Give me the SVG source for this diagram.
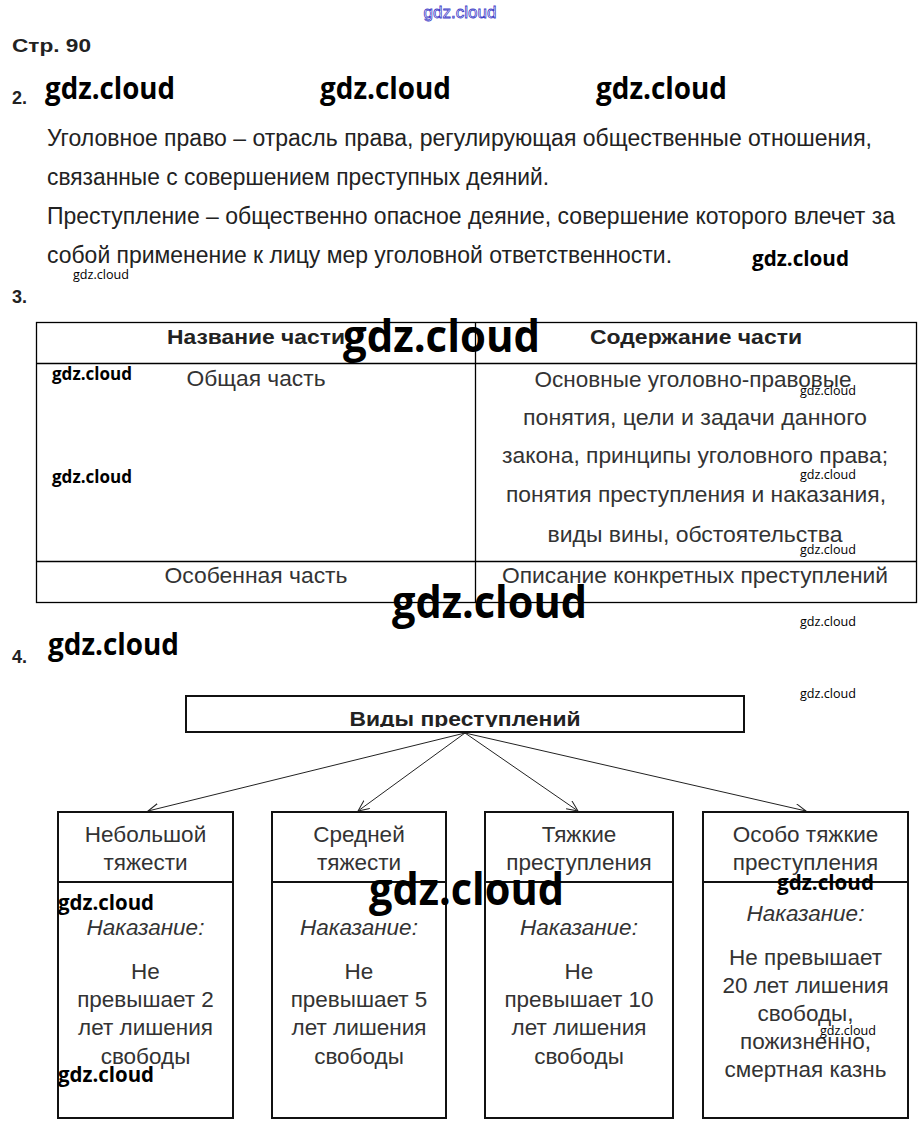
<svg xmlns="http://www.w3.org/2000/svg" width="921" height="1134" viewBox="0 0 921 1134">
<style>
.bg{fill:#fff}
.t{font-family:"Liberation Sans",Arial,sans-serif;fill:#222}
.b{font-weight:bold}
.c{text-anchor:middle}
.p{font-size:23px}
.n{font-size:22px;fill:#333}
.d{font-size:22.5px;fill:#333}
.i{font-style:italic}
.wm{font-family:"Open Sans","Lato",sans-serif;font-weight:bold;fill:#000}
.ws{font-family:"Open Sans","Lato",sans-serif;font-weight:normal;font-size:13px;fill:#000}
.ln{stroke:#000;stroke-width:1.3;fill:none}
.bx{stroke:#111;stroke-width:2;fill:#fff}
.ar{stroke:#222;stroke-width:1;fill:none}
</style>
<defs>
<marker id="ah" markerUnits="userSpaceOnUse" markerWidth="14" markerHeight="12" refX="11" refY="5" orient="auto">
<path d="M0,0 L11,5 L0,10" stroke="#222" stroke-width="1" fill="none"/>
</marker>
<clipPath id="clipTop"><rect x="186" y="696" width="558" height="31"/></clipPath>
</defs>
<rect class="bg" x="0" y="0" width="921" height="1134"/>

<text x="460" y="18" class="c" font-family="Liberation Sans,sans-serif" font-size="17" fill="#fff" stroke="#4040c8" stroke-width="0.8">gdz.cloud</text>
<text x="12" y="52" class="t b" font-size="19" textLength="79" lengthAdjust="spacingAndGlyphs">Стр. 90</text>
<text x="12" y="104" class="t b" font-size="18">2.</text>
<text x="45" y="99" class="wm" font-size="30" textLength="130" lengthAdjust="spacingAndGlyphs">gdz.cloud</text>
<text x="320" y="99" class="wm" font-size="30" textLength="131" lengthAdjust="spacingAndGlyphs">gdz.cloud</text>
<text x="596" y="99" class="wm" font-size="30" textLength="131" lengthAdjust="spacingAndGlyphs">gdz.cloud</text>

<g id="definitions">
<text x="47" y="146" class="t p" fill="#333" textLength="825" lengthAdjust="spacingAndGlyphs">Уголовное право – отрасль права, регулирующая общественные отношения,</text>
<text x="47" y="185" class="t p" textLength="502" lengthAdjust="spacingAndGlyphs">связанные с совершением преступных деяний.</text>
<text x="47" y="224" class="t p" textLength="848" lengthAdjust="spacingAndGlyphs">Преступление – общественно опасное деяние, совершение которого влечет за</text>
<text x="47" y="263" class="t p" textLength="625" lengthAdjust="spacingAndGlyphs">собой применение к лицу мер уголовной ответственности.</text>
</g>
<text x="752" y="266" class="wm" font-size="22" textLength="97" lengthAdjust="spacingAndGlyphs">gdz.cloud</text>
<text x="73" y="279" class="ws" textLength="56" lengthAdjust="spacingAndGlyphs">gdz.cloud</text>
<text x="12" y="303" class="t b" font-size="18">3.</text>

<g id="table">
<rect class="ln" x="36.5" y="322.5" width="880" height="280"/>
<line class="ln" x1="36" y1="363.5" x2="917" y2="363.5"/>
<line class="ln" x1="36" y1="561.5" x2="917" y2="561.5"/>
<line class="ln" x1="475.5" y1="322" x2="475.5" y2="603"/>
<text x="256" y="344" class="t b c" font-size="21" textLength="178" lengthAdjust="spacingAndGlyphs">Название части</text>
<text x="696" y="344" class="t b c" font-size="21" textLength="212" lengthAdjust="spacingAndGlyphs">Содержание части</text>
<text x="256" y="386" class="t c n" textLength="139" lengthAdjust="spacingAndGlyphs">Общая часть</text>
<text x="693" y="387" class="t c n" textLength="317" lengthAdjust="spacingAndGlyphs">Основные уголовно-правовые</text>
<text x="695" y="425" class="t c n" textLength="344" lengthAdjust="spacingAndGlyphs">понятия, цели и задачи данного</text>
<text x="695" y="463" class="t c n" textLength="386" lengthAdjust="spacingAndGlyphs">закона, принципы уголовного права;</text>
<text x="696" y="502" class="t c n" textLength="380" lengthAdjust="spacingAndGlyphs">понятия преступления и наказания,</text>
<text x="695" y="542" class="t c n" textLength="295" lengthAdjust="spacingAndGlyphs">виды вины, обстоятельства</text>
<text x="256" y="583" class="t c n" textLength="183" lengthAdjust="spacingAndGlyphs">Особенная часть</text>
<text x="695" y="583" class="t c n" textLength="386" lengthAdjust="spacingAndGlyphs">Описание конкретных преступлений</text>
</g>
<text x="343" y="352" class="wm" font-size="44" textLength="197" lengthAdjust="spacingAndGlyphs">gdz.cloud</text>
<text x="52" y="380" class="wm" font-size="17" textLength="80" lengthAdjust="spacingAndGlyphs">gdz.cloud</text>
<text x="52" y="483" class="wm" font-size="17" textLength="80" lengthAdjust="spacingAndGlyphs">gdz.cloud</text>
<text x="800" y="395" class="ws" textLength="56" lengthAdjust="spacingAndGlyphs">gdz.cloud</text>
<text x="800" y="479" class="ws" textLength="56" lengthAdjust="spacingAndGlyphs">gdz.cloud</text>
<text x="800" y="554" class="ws" textLength="56" lengthAdjust="spacingAndGlyphs">gdz.cloud</text>
<text x="392" y="618" class="wm" font-size="44" textLength="195" lengthAdjust="spacingAndGlyphs">gdz.cloud</text>
<text x="800" y="626" class="ws" textLength="56" lengthAdjust="spacingAndGlyphs">gdz.cloud</text>
<text x="12" y="663" class="t b" font-size="18">4.</text>
<text x="48" y="655" class="wm" font-size="30" textLength="131" lengthAdjust="spacingAndGlyphs">gdz.cloud</text>
<text x="800" y="698" class="ws" textLength="56" lengthAdjust="spacingAndGlyphs">gdz.cloud</text>

<g id="connectors">
<line class="ar" x1="465" y1="733" x2="148" y2="811" marker-end="url(#ah)"/>
<line class="ar" x1="465" y1="733" x2="358" y2="811" marker-end="url(#ah)"/>
<line class="ar" x1="465" y1="733" x2="578" y2="811" marker-end="url(#ah)"/>
<line class="ar" x1="465" y1="733" x2="806" y2="811" marker-end="url(#ah)"/>
</g>

<g id="node-root">
<rect class="bx" x="186" y="696" width="558" height="36"/>
<text x="465" y="726" class="t b c" font-size="21" fill="#111" clip-path="url(#clipTop)" textLength="231" lengthAdjust="spacingAndGlyphs">Виды преступлений</text>
</g>

<g id="node-small">
<rect class="bx" x="58" y="812" width="175" height="306"/>
<line class="bx" x1="58" y1="882" x2="233" y2="882"/>
<text x="145.5" y="842" class="t c d">Небольшой</text>
<text x="145.5" y="870" class="t c d">тяжести</text>
<text x="145.5" y="935" class="t c d i">Наказание:</text>
<text x="145.5" y="979" class="t c d">Не</text>
<text x="145.5" y="1007" class="t c d">превышает 2</text>
<text x="145.5" y="1035" class="t c d">лет лишения</text>
<text x="145.5" y="1064" class="t c d">свободы</text>
</g>

<g id="node-medium">
<rect class="bx" x="272" y="812" width="174" height="306"/>
<line class="bx" x1="272" y1="882" x2="446" y2="882"/>
<text x="359" y="842" class="t c d">Средней</text>
<text x="359" y="870" class="t c d">тяжести</text>
<text x="359" y="935" class="t c d i">Наказание:</text>
<text x="359" y="979" class="t c d">Не</text>
<text x="359" y="1007" class="t c d">превышает 5</text>
<text x="359" y="1035" class="t c d">лет лишения</text>
<text x="359" y="1064" class="t c d">свободы</text>
</g>

<g id="node-grave">
<rect class="bx" x="485" y="812" width="188" height="306"/>
<line class="bx" x1="485" y1="882" x2="673" y2="882"/>
<text x="579" y="842" class="t c d">Тяжкие</text>
<text x="579" y="870" class="t c d">преступления</text>
<text x="579" y="935" class="t c d i">Наказание:</text>
<text x="579" y="979" class="t c d">Не</text>
<text x="579" y="1007" class="t c d">превышает 10</text>
<text x="579" y="1035" class="t c d">лет лишения</text>
<text x="579" y="1064" class="t c d">свободы</text>
</g>

<g id="node-especially-grave">
<rect class="bx" x="703" y="812" width="205" height="306"/>
<line class="bx" x1="703" y1="882" x2="908" y2="882"/>
<text x="805.5" y="842" class="t c d">Особо тяжкие</text>
<text x="805.5" y="870" class="t c d">преступления</text>
<text x="805.5" y="921" class="t c d i">Наказание:</text>
<text x="805.5" y="965" class="t c d">Не превышает</text>
<text x="805.5" y="993" class="t c d">20 лет лишения</text>
<text x="805.5" y="1021" class="t c d">свободы,</text>
<text x="805.5" y="1049" class="t c d">пожизненно,</text>
<text x="805.5" y="1077" class="t c d">смертная казнь</text>
</g>

<text x="58" y="910" class="wm" font-size="22" textLength="96" lengthAdjust="spacingAndGlyphs">gdz.cloud</text>
<text x="369" y="905" class="wm" font-size="44" textLength="195" lengthAdjust="spacingAndGlyphs">gdz.cloud</text>
<text x="777" y="890" class="wm" font-size="22" textLength="97" lengthAdjust="spacingAndGlyphs">gdz.cloud</text>
<text x="820" y="1035" class="ws" textLength="56" lengthAdjust="spacingAndGlyphs">gdz.cloud</text>
<text x="58" y="1082" class="wm" font-size="22" textLength="96" lengthAdjust="spacingAndGlyphs">gdz.cloud</text>
</svg>
